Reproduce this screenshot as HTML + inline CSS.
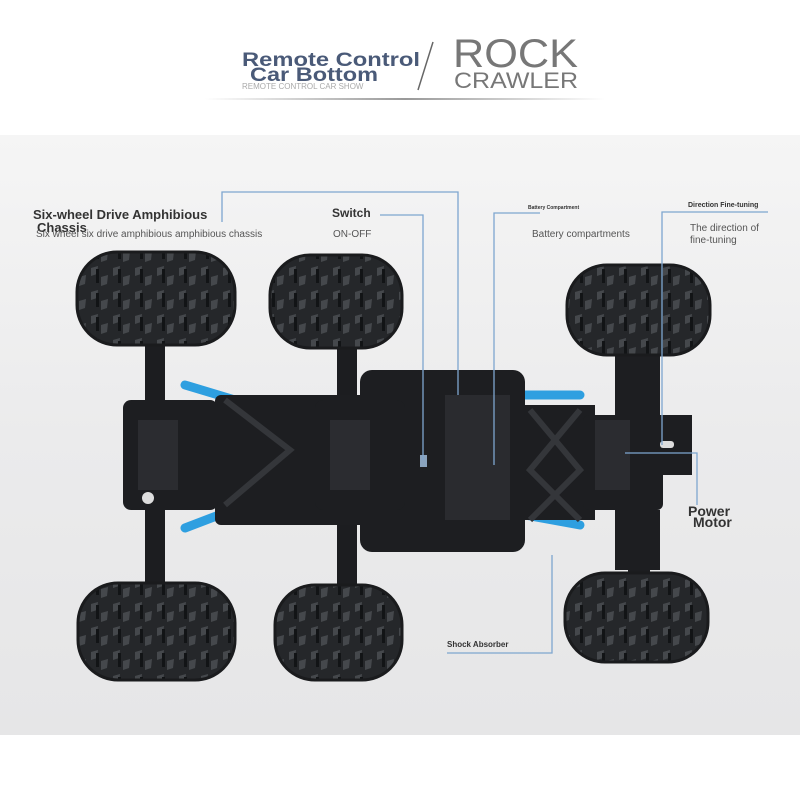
<!DOCTYPE html>
<html><head><meta charset="utf-8"><style>
body{margin:0;width:800px;height:800px;overflow:hidden;background:#fff;font-family:"Liberation Sans",sans-serif}
</style></head><body>
<svg width="800" height="800" viewBox="0 0 800 800" xmlns="http://www.w3.org/2000/svg">
<defs>
<linearGradient id="bg" x1="0" y1="0" x2="0" y2="1">
<stop offset="0" stop-color="#f5f5f5"/><stop offset="0.5" stop-color="#ebebec"/><stop offset="1" stop-color="#e6e6e7"/>
</linearGradient>
<linearGradient id="hr" x1="0" x2="1"><stop offset="0" stop-color="#fff"/><stop offset="0.5" stop-color="#999"/><stop offset="1" stop-color="#fff"/></linearGradient>
<pattern id="tread" width="22" height="24" patternUnits="userSpaceOnUse">
<rect width="22" height="24" fill="#25272a"/>
<path d="M3 4 L10 2 L9 10 L3 12Z M13 13 L20 11 L19 20 L13 22Z" fill="#45484c"/>
<rect x="8" y="5" width="3" height="14" fill="#121416"/>
</pattern>
</defs>
<rect width="800" height="800" fill="#fff"/>
<rect x="0" y="135" width="800" height="600" fill="url(#bg)"/>
<!-- header -->
<rect x="205" y="98" width="400" height="2" fill="url(#hr)"/>
<text x="242" y="66" font-size="19" font-weight="bold" fill="#4a5a78" textLength="178" lengthAdjust="spacingAndGlyphs">Remote Control</text>
<text x="250" y="81" font-size="19" font-weight="bold" fill="#4a5a78" textLength="128" lengthAdjust="spacingAndGlyphs">Car Bottom</text>
<text x="242" y="89" font-size="8" fill="#aaa">REMOTE CONTROL CAR SHOW</text>
<line x1="433" y1="42" x2="418" y2="90" stroke="#666" stroke-width="1.5"/>
<text x="453" y="67" font-size="40" fill="#777" textLength="125" lengthAdjust="spacingAndGlyphs">ROCK</text>
<text x="454" y="88" font-size="22" fill="#777" textLength="124" lengthAdjust="spacingAndGlyphs">CRAWLER</text>

<!-- axles -->
<g fill="#1c1d20">
<rect x="145" y="330" width="20" height="270"/>
<rect x="337" y="330" width="20" height="270"/>
<rect x="628" y="340" width="22" height="240"/>
</g>
<!-- blue springs -->
<g stroke="#2e9fe0" stroke-width="9" stroke-linecap="round" fill="none">
<path d="M185 385 L235 400"/><path d="M185 528 L232 510"/>
<path d="M370 390 L400 378"/><path d="M370 530 L390 520"/>
<path d="M525 395 L580 395"/><path d="M525 515 L580 525"/>
</g>
<!-- frame -->
<g fill="#1d1e21">
<rect x="215" y="395" width="155" height="130" rx="6"/>
<rect x="360" y="370" width="165" height="182" rx="12"/>
<rect x="515" y="405" width="80" height="115"/>
<rect x="123" y="400" width="95" height="110" rx="8"/>
<rect x="315" y="400" width="90" height="110" rx="8"/>
<rect x="583" y="415" width="80" height="95" rx="6"/>
<rect x="640" y="415" width="52" height="60"/>
<rect x="615" y="355" width="45" height="60"/>
<rect x="615" y="510" width="45" height="60"/>
</g>
<rect x="445" y="395" width="65" height="125" fill="#2a2b2f"/>
<g stroke="#34363a" stroke-width="6" fill="none">
<path d="M530 410 L580 470 L530 520"/><path d="M580 410 L530 470 L580 520"/>
<path d="M225 400 L290 450 L225 505"/>
</g>
<rect x="138" y="420" width="40" height="70" fill="#2b2c30"/>
<rect x="330" y="420" width="40" height="70" fill="#2b2c30"/>
<rect x="595" y="420" width="35" height="70" fill="#2b2c30"/>
<circle cx="148" cy="498" r="6" fill="#ddd"/>
<rect x="420" y="455" width="7" height="12" fill="#8aa3bd"/>
<rect x="660" y="441" width="14" height="7" rx="3" fill="#ddd"/>

<!-- tires -->
<g stroke="#1a1b1d" stroke-width="3">
<rect x="77" y="252" width="158" height="93" rx="40" fill="url(#tread)"/>
<rect x="270" y="255" width="132" height="93" rx="40" fill="url(#tread)"/>
<rect x="567" y="265" width="143" height="90" rx="40" fill="url(#tread)"/>
<rect x="78" y="583" width="157" height="97" rx="40" fill="url(#tread)"/>
<rect x="275" y="585" width="127" height="95" rx="40" fill="url(#tread)"/>
<rect x="565" y="573" width="143" height="89" rx="40" fill="url(#tread)"/>
</g>

<!-- connectors -->
<g stroke="#7ea6cf" stroke-width="1.3" fill="none">
<path d="M222 222 V192 H458 V395"/>
<path d="M380 215 H423 V460"/>
<path d="M540 213 H494 V465"/>
<path d="M768 212 H662 V445"/>
<path d="M625 453 H697 V505"/>
<path d="M447 653 H552 V555"/>
</g>
<!-- labels -->
<g fill="#333" font-weight="bold">
<text x="33" y="219" font-size="13">Six-wheel Drive Amphibious</text>
<text x="37" y="232" font-size="13">Chassis</text>
<text x="332" y="217" font-size="12">Switch</text>
<text x="528" y="209" font-size="5">Battery Compartment</text>
<text x="688" y="207" font-size="7">Direction Fine-tuning</text>
<text x="688" y="516" font-size="14">Power</text>
<text x="693" y="527" font-size="14">Motor</text>
<text x="447" y="647" font-size="8">Shock Absorber</text>
</g>
<g fill="#555" font-size="10">
<text x="36" y="237">Six wheel six drive amphibious amphibious chassis</text>
<text x="333" y="237">ON-OFF</text>
<text x="532" y="237">Battery compartments</text>
<text x="690" y="231">The direction of</text>
<text x="690" y="243">fine-tuning</text>
</g>
</svg>
</body></html>
